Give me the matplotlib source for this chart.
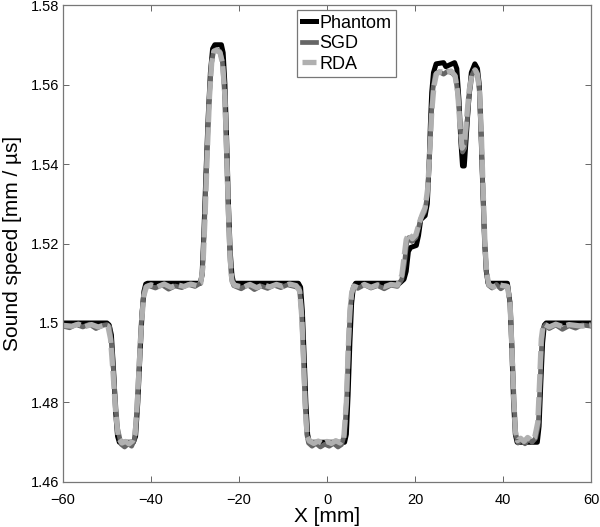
import matplotlib

matplotlib.use("Agg")
import matplotlib.pyplot as plt

plt.rcParams["font.family"] = ["Liberation Sans", "DejaVu Sans"]
plt.rcParams["lines.scale_dashes"] = False

# (X [mm], sound speed [mm/us])
phantom_pts = [
    (-60, 1.500), (-50.0, 1.500), (-49.5, 1.4995), (-49.0, 1.497), (-48.5, 1.488),
    (-48.0, 1.477), (-47.6, 1.4715), (-47.2, 1.470), (-44.0, 1.470), (-43.5, 1.4715),
    (-43.0, 1.480), (-42.5, 1.492), (-42.0, 1.503), (-41.6, 1.508), (-41.2, 1.5098),
    (-40.8, 1.510), (-28.8, 1.510), (-28.4, 1.512), (-28.0, 1.522), (-27.5, 1.538),
    (-27.0, 1.552), (-26.5, 1.563), (-26.0, 1.569), (-25.5, 1.570), (-24.0, 1.570),
    (-23.6, 1.568), (-23.2, 1.560), (-22.8, 1.546), (-22.4, 1.530), (-22.0, 1.518),
    (-21.6, 1.512), (-21.2, 1.510), (-6.5, 1.510), (-6.0, 1.509), (-5.6, 1.503),
    (-5.2, 1.492), (-4.8, 1.480), (-4.4, 1.472), (-4.0, 1.470), (4.0, 1.470),
    (4.4, 1.472), (4.8, 1.482), (5.2, 1.495), (5.6, 1.505), (6.0, 1.509), (6.5, 1.510),
    (16.5, 1.510), (17.5, 1.511), (18.0, 1.513), (18.5, 1.518), (19.0, 1.519),
    (20.3, 1.5195), (20.8, 1.522), (21.3, 1.526), (22.3, 1.527), (22.8, 1.530),
    (23.2, 1.540), (23.5, 1.550), (23.8, 1.558), (24.2, 1.563), (24.8, 1.5652),
    (26.5, 1.5655), (27.0, 1.5645), (29.0, 1.5655), (29.5, 1.564), (30.0, 1.556),
    (30.4, 1.546), (30.8, 1.5395), (31.2, 1.5395), (31.6, 1.546), (32.2, 1.556),
    (32.8, 1.563), (33.6, 1.5652), (34.2, 1.564), (34.6, 1.560), (35.0, 1.548),
    (35.4, 1.534), (35.8, 1.521), (36.2, 1.513), (36.6, 1.510), (41.0, 1.510),
    (41.6, 1.505), (42.0, 1.494), (42.4, 1.480), (42.8, 1.472), (43.2, 1.470),
    (47.8, 1.470), (48.2, 1.474), (48.6, 1.485), (49.0, 1.495), (49.4, 1.4995),
    (49.8, 1.500), (60, 1.500),
]

sgd_pts = [
    (-60, 1.4992), (-58.5, 1.4988), (-57.0, 1.4996), (-55.5, 1.4990), (-54.0, 1.4997),
    (-52.5, 1.4986), (-51.0, 1.4994), (-50.0, 1.4996), (-49.4, 1.4990), (-48.8, 1.4930),
    (-48.2, 1.4820), (-47.6, 1.4735), (-46.8, 1.4695), (-46.0, 1.4688), (-45.2, 1.4696),
    (-44.4, 1.4690), (-43.8, 1.4705), (-43.3, 1.4770), (-42.8, 1.4880), (-42.3, 1.4990),
    (-41.8, 1.5060), (-41.3, 1.5090), (-40.5, 1.5094), (-39.0, 1.5088), (-37.5, 1.5096),
    (-36.0, 1.5085), (-34.5, 1.5093), (-33.0, 1.5089), (-31.5, 1.5097), (-30.0, 1.5092),
    (-28.8, 1.5100), (-28.3, 1.5130), (-27.8, 1.5260), (-27.3, 1.5420), (-26.8, 1.5560),
    (-26.3, 1.5650), (-25.8, 1.5682), (-25.2, 1.5688), (-24.4, 1.5684), (-23.8, 1.5660),
    (-23.3, 1.5580), (-22.9, 1.5440), (-22.5, 1.5290), (-22.1, 1.5170), (-21.7, 1.5110),
    (-21.2, 1.5094), (-19.5, 1.5086), (-18.0, 1.5096), (-16.5, 1.5084), (-15.0, 1.5093),
    (-13.5, 1.5087), (-12.0, 1.5095), (-10.5, 1.5089), (-9.0, 1.5096), (-7.5, 1.5092),
    (-6.3, 1.5088), (-5.8, 1.5030), (-5.4, 1.4920), (-5.0, 1.4800), (-4.6, 1.4720),
    (-4.2, 1.4698), (-3.4, 1.4690), (-2.5, 1.4697), (-1.5, 1.4688), (-0.5, 1.4695),
    (0.5, 1.4690), (1.5, 1.4697), (2.5, 1.4688), (3.3, 1.4694), (4.0, 1.4720),
    (4.5, 1.4820), (4.9, 1.4950), (5.3, 1.5040), (5.7, 1.5080), (6.2, 1.5092),
    (7.0, 1.5087), (8.5, 1.5096), (10.0, 1.5088), (11.5, 1.5094), (13.0, 1.5086),
    (14.5, 1.5095), (16.0, 1.5092), (17.0, 1.5110), (17.6, 1.5150), (18.1, 1.5200),
    (18.6, 1.5215), (19.3, 1.5205), (20.2, 1.5215), (20.8, 1.5240), (21.4, 1.5265),
    (22.2, 1.5280), (22.8, 1.5320), (23.3, 1.5420), (23.7, 1.5520), (24.1, 1.5590),
    (24.6, 1.5625), (25.5, 1.5632), (26.5, 1.5626), (27.5, 1.5634), (28.5, 1.5628),
    (29.2, 1.5620), (29.8, 1.5570), (30.3, 1.5490), (30.8, 1.5430), (31.3, 1.5440),
    (31.8, 1.5500), (32.4, 1.5580), (33.0, 1.5625), (33.6, 1.5638), (34.1, 1.5630),
    (34.6, 1.5590), (35.0, 1.5480), (35.4, 1.5340), (35.8, 1.5210), (36.2, 1.5130),
    (36.7, 1.5095), (37.5, 1.5088), (38.5, 1.5097), (39.5, 1.5086), (40.5, 1.5094),
    (41.1, 1.5092), (41.7, 1.5040), (42.1, 1.4930), (42.5, 1.4810), (42.9, 1.4720),
    (43.4, 1.4698), (44.2, 1.4706), (45.0, 1.4696), (45.8, 1.4708), (46.6, 1.4700),
    (47.4, 1.4710), (48.0, 1.4740), (48.4, 1.4840), (48.8, 1.4950), (49.2, 1.4990),
    (49.7, 1.4996), (50.5, 1.4986), (52.0, 1.4995), (53.5, 1.4984), (55.0, 1.4993),
    (56.5, 1.4987), (58.0, 1.4995), (60, 1.4992),
]

rda_pts = [
    (-60, 1.4994), (-58.0, 1.4992), (-56.5, 1.4997), (-55.0, 1.4991), (-53.5, 1.4996),
    (-52.0, 1.4990), (-50.5, 1.4995), (-49.8, 1.4993), (-49.2, 1.4960), (-48.6, 1.4870),
    (-48.0, 1.4770), (-47.4, 1.4710), (-46.6, 1.4698), (-45.8, 1.4702), (-45.0, 1.4696),
    (-44.2, 1.4703), (-43.6, 1.4720), (-43.1, 1.4800), (-42.6, 1.4910), (-42.1, 1.5010),
    (-41.6, 1.5070), (-41.0, 1.5092), (-40.0, 1.5096), (-38.5, 1.5091), (-37.0, 1.5098),
    (-35.5, 1.5090), (-34.0, 1.5096), (-32.5, 1.5092), (-31.0, 1.5098), (-29.5, 1.5094),
    (-28.7, 1.5100), (-28.2, 1.5140), (-27.7, 1.5270), (-27.2, 1.5430), (-26.7, 1.5570),
    (-26.2, 1.5655), (-25.7, 1.5684), (-25.1, 1.5686), (-24.3, 1.5680), (-23.7, 1.5650),
    (-23.2, 1.5570), (-22.8, 1.5430), (-22.4, 1.5280), (-22.0, 1.5160), (-21.6, 1.5105),
    (-21.0, 1.5095), (-19.0, 1.5090), (-17.5, 1.5097), (-16.0, 1.5089), (-14.5, 1.5096),
    (-13.0, 1.5091), (-11.5, 1.5097), (-10.0, 1.5092), (-8.5, 1.5098), (-7.0, 1.5094),
    (-6.2, 1.5080), (-5.7, 1.5010), (-5.3, 1.4900), (-4.9, 1.4780), (-4.5, 1.4715),
    (-4.0, 1.4703), (-3.0, 1.4697), (-2.0, 1.4703), (-1.0, 1.4696), (0.0, 1.4702),
    (1.0, 1.4697), (2.0, 1.4704), (3.0, 1.4698), (3.8, 1.4710), (4.4, 1.4800),
    (4.8, 1.4930), (5.2, 1.5030), (5.6, 1.5075), (6.1, 1.5093), (7.0, 1.5089),
    (8.5, 1.5097), (10.0, 1.5090), (11.5, 1.5096), (13.0, 1.5091), (14.5, 1.5097),
    (16.0, 1.5095), (17.0, 1.5120), (17.5, 1.5165), (18.0, 1.5210), (18.6, 1.5225),
    (19.4, 1.5212), (20.2, 1.5222), (20.9, 1.5250), (21.6, 1.5272), (22.3, 1.5290),
    (22.9, 1.5340), (23.4, 1.5440), (23.8, 1.5530), (24.3, 1.5595), (24.9, 1.5628),
    (26.0, 1.5632), (27.0, 1.5630), (28.2, 1.5634), (29.1, 1.5622), (29.7, 1.5580),
    (30.2, 1.5500), (30.7, 1.5440), (31.2, 1.5450), (31.7, 1.5510), (32.3, 1.5585),
    (33.0, 1.5628), (33.7, 1.5636), (34.2, 1.5625), (34.7, 1.5580), (35.1, 1.5470),
    (35.5, 1.5330), (35.9, 1.5200), (36.3, 1.5125), (36.8, 1.5096), (37.8, 1.5090),
    (38.8, 1.5097), (40.0, 1.5094), (41.0, 1.5092), (41.6, 1.5050), (42.0, 1.4940),
    (42.4, 1.4820), (42.8, 1.4728), (43.3, 1.4704), (44.0, 1.4710), (44.8, 1.4702),
    (45.6, 1.4712), (46.4, 1.4705), (47.2, 1.4712), (47.9, 1.4750), (48.3, 1.4850),
    (48.7, 1.4960), (49.1, 1.4993), (49.6, 1.4996), (50.5, 1.4990), (52.0, 1.4997),
    (53.5, 1.4991), (55.0, 1.4996), (56.5, 1.4994), (58.0, 1.4992), (60, 1.4995),
]

x_ticks = [-60, -40, -20, 0, 20, 40, 60]
x_tick_labels = ["\u221260", "\u221240", "\u221220", "0", "20", "40", "60"]
y_ticks = [1.46, 1.48, 1.50, 1.52, 1.54, 1.56, 1.58]
y_tick_labels = ["1.46", "1.48", "1.5", "1.52", "1.54", "1.56", "1.58"]

fig = plt.figure(figsize=(6.0, 5.27), dpi=100)
ax = fig.add_axes([0.105, 0.0854, 0.88, 0.9051])

px, pv = zip(*phantom_pts)
sx, sv = zip(*sgd_pts)
rx, rv = zip(*rda_pts)
ax.plot(px, pv, color="black", lw=3.6, label="Phantom", solid_joinstyle="round")
ax.plot(sx, sv, color="#666666", lw=3.4, label="SGD", solid_joinstyle="round")
ax.plot(rx, rv, color="#b0b0b0", lw=3.8, label="RDA", dashes=(13, 3.6))

ax.set_xlim(-60, 60)
ax.set_ylim(1.46, 1.58)
ax.set_xticks(x_ticks)
ax.set_xticklabels(x_tick_labels)
ax.set_yticks(y_ticks)
ax.set_yticklabels(y_tick_labels)
ax.tick_params(direction="in", length=4, width=0.7, colors="#666666", labelcolor="black",
               labelsize=10.5, top=True, right=True)
ax.tick_params(axis="x", pad=8)
ax.tick_params(axis="y", pad=3)
for sp in ax.spines.values():
    sp.set_color("#777777")
    sp.set_linewidth(0.9)

ax.set_xlabel("X [mm]", fontsize=15, labelpad=0)
ax.set_ylabel("Sound speed [mm / \u00b5s]", fontsize=15, labelpad=6)

leg = ax.legend(loc="upper left", bbox_to_anchor=(0.495, 0.981), bbox_transform=fig.transFigure,
                fontsize=13, handlelength=0.8, handletextpad=0.2, borderpad=0.25,
                labelspacing=0.2, borderaxespad=0, fancybox=False, framealpha=1)
leg.get_frame().set_edgecolor("#777777")
leg.get_frame().set_linewidth(0.9)

fig.savefig("out.png", dpi=100)
